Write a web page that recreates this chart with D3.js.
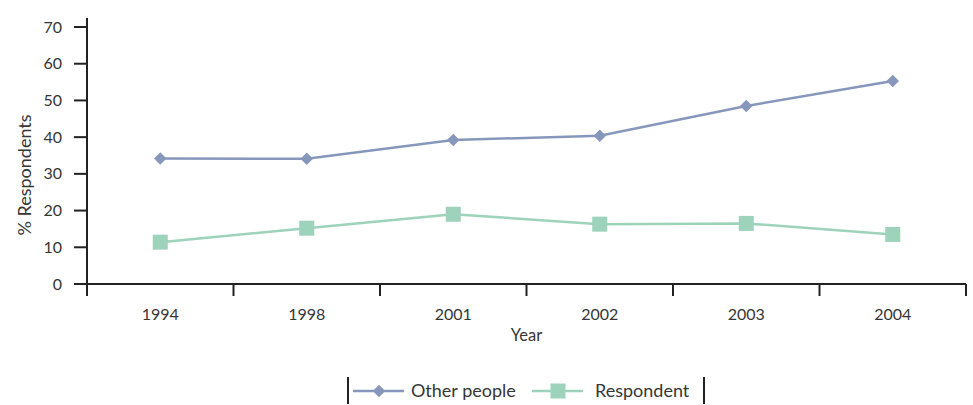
<!DOCTYPE html>
<html>
<head>
<meta charset="utf-8">
<script src="https://cdn.jsdelivr.net/npm/d3@7"></script>
<style>
  html, body { margin: 0; padding: 0; background: #fff; }
  svg text { font-family: "Lato", "Open Sans", sans-serif; fill: #363636; }
</style>
</head>
<body>
<svg id="chart" width="973" height="405"></svg>
<script>
// Survey years and percentages for each group
const years = ["1994", "1998", "2001", "2002", "2003", "2004"];
const otherPeople = [34.2, 34.1, 39.2, 40.4, 48.5, 55.3];
const respondent = [11.4, 15.2, 19.0, 16.3, 16.5, 13.5];
const yTicks = [0, 10, 20, 30, 40, 50, 60, 70];
const seriesNames = ["Other people", "Respondent"];

const colors = { other: "#8797bb", resp: "#9dd2bb", axis: "#222" };

const svg = d3.select("#chart");
const plot = { left: 87, right: 966, top: 18, bottom: 284 };

const x = d3.scaleBand().domain(years).range([plot.left, plot.right]);
const y = d3.scaleLinear().domain([0, 70]).range([plot.bottom, 27]);

// Y axis
const yAxis = svg.append("g").attr("transform", `translate(${plot.left},0)`);
yAxis.append("line")
  .attr("x1", 0).attr("x2", 0).attr("y1", plot.top).attr("y2", plot.bottom + 12)
  .attr("stroke", colors.axis).attr("stroke-width", 2);
yAxis.selectAll("line.tick").data(yTicks).join("line")
  .attr("class", "tick")
  .attr("x1", -13).attr("x2", 0)
  .attr("y1", d => y(d)).attr("y2", d => y(d))
  .attr("stroke", colors.axis).attr("stroke-width", 2);
yAxis.selectAll("text").data(yTicks).join("text")
  .attr("x", -25).attr("y", d => y(d))
  .attr("dy", "0.35em").attr("text-anchor", "end")
  .attr("font-size", 16).text(d => d);

// X axis
const xAxis = svg.append("g").attr("transform", `translate(0,${plot.bottom})`);
xAxis.append("line")
  .attr("x1", plot.left - 13).attr("x2", plot.right).attr("y1", 0).attr("y2", 0)
  .attr("stroke", colors.axis).attr("stroke-width", 2);
const edges = years.map(d => x(d)).concat([x(years[years.length - 1]) + x.bandwidth()]);
xAxis.selectAll("line.tick").data(edges).join("line")
  .attr("class", "tick")
  .attr("x1", d => d).attr("x2", d => d).attr("y1", 0).attr("y2", 12)
  .attr("stroke", colors.axis).attr("stroke-width", 2);
xAxis.selectAll("text").data(years).join("text")
  .attr("x", d => x(d) + x.bandwidth() / 2).attr("y", 36)
  .attr("text-anchor", "middle").attr("font-size", 16).text(d => d);

// Axis titles
svg.append("text")
  .attr("x", (plot.left + plot.right) / 2).attr("y", 341)
  .attr("text-anchor", "middle").attr("font-size", 16.5).text("Year");
svg.append("text")
  .attr("transform", "translate(31,175) rotate(-90)")
  .attr("text-anchor", "middle").attr("font-size", 18).text("% Respondents");

const cx = d => x(d) + x.bandwidth() / 2;
const line = d3.line().x((d, i) => cx(years[i])).y(d => y(d));

const diamond = d3.symbol().type(d3.symbolDiamond2).size(100);
const square = d3.symbol().type(d3.symbolSquare).size(225);

// Other people series
svg.append("path").datum(otherPeople)
  .attr("d", line).attr("fill", "none")
  .attr("stroke", colors.other).attr("stroke-width", 2.5);
svg.selectAll("path.other").data(otherPeople).join("path")
  .attr("class", "other")
  .attr("transform", (d, i) => `translate(${cx(years[i])},${y(d)})`)
  .attr("d", diamond).attr("fill", colors.other);

// Respondent series
svg.append("path").datum(respondent)
  .attr("d", line).attr("fill", "none")
  .attr("stroke", colors.resp).attr("stroke-width", 2.5);
svg.selectAll("path.resp").data(respondent).join("path")
  .attr("class", "resp")
  .attr("transform", (d, i) => `translate(${cx(years[i])},${y(d)})`)
  .attr("d", square).attr("fill", colors.resp);

// Legend
const lg = svg.append("g");
lg.append("line").attr("x1", 348).attr("x2", 348).attr("y1", 377).attr("y2", 404)
  .attr("stroke", colors.axis).attr("stroke-width", 2);
lg.append("line").attr("x1", 704).attr("x2", 704).attr("y1", 377).attr("y2", 404)
  .attr("stroke", colors.axis).attr("stroke-width", 2);

const legendItems = [
  { name: seriesNames[0], color: colors.other, sym: diamond, x0: 353, tx: 411 },
  { name: seriesNames[1], color: colors.resp, sym: square, x0: 532, tx: 595 }
];
legendItems.forEach(it => {
  lg.append("line").attr("x1", it.x0).attr("x2", it.x0 + 51)
    .attr("y1", 391).attr("y2", 391)
    .attr("stroke", it.color).attr("stroke-width", 2.5);
  lg.append("path").attr("transform", `translate(${it.x0 + 26},391)`)
    .attr("d", it.sym).attr("fill", it.color);
  lg.append("text").attr("x", it.tx).attr("y", 391).attr("dy", "0.35em")
    .attr("font-size", 18).text(it.name);
});
</script>
</body>
</html>
